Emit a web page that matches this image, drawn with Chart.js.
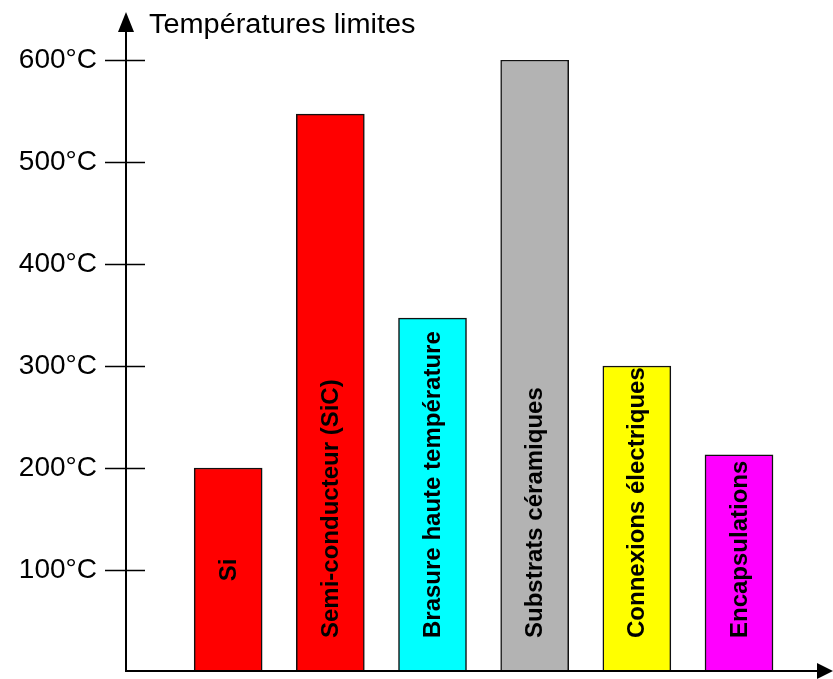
<!DOCTYPE html>
<html>
<head>
<meta charset="utf-8">
<script src="https://cdn.jsdelivr.net/npm/chart.js@4.4.1/dist/chart.umd.min.js"></script>
<style>
html,body{margin:0;padding:0;background:#fff;}
#wrap{width:833px;height:679px;}
</style>
</head>
<body>
<div id="wrap"><canvas id="c" width="833" height="679"></canvas></div>
<script>
const categories = ['Si', 'Semi-conducteur (SiC)', 'Brasure haute température', 'Substrats céramiques', 'Connexions électriques', 'Encapsulations'];
const values = [200, 547, 347, 600, 300, 213];
const barColors = ['#ff0000', '#ff0000', '#00ffff', '#b3b3b3', '#ffff00', '#ff00ff'];
const yTicks = [100, 200, 300, 400, 500, 600];
const axisTitle = 'Températures limites';
const unit = '°C';

const FONT = '"Liberation Sans", Arial, sans-serif';

const deco = {
  id: 'deco',
  afterDatasetsDraw(chart) {
    const ctx = chart.ctx;
    const meta = chart.getDatasetMeta(0);
    ctx.save();
    ctx.font = 'bold 24px ' + FONT;
    ctx.fillStyle = '#000';
    ctx.textBaseline = 'middle';
    meta.data.forEach((bar, i) => {
      const txt = categories[i];
      const w = ctx.measureText(txt).width;
      const h = bar.base - bar.y;
      let endY;
      if (w < h / 4) {
        endY = (bar.y + bar.base) / 2 + w / 2;
      } else {
        endY = bar.base - 34;
      }
      ctx.save();
      ctx.translate(bar.x, endY);
      ctx.rotate(-Math.PI / 2);
      ctx.textAlign = 'left';
      ctx.fillText(txt, 0, 1);
      ctx.restore();
    });
    ctx.restore();
  },
  afterDraw(chart) {
    const ctx = chart.ctx;
    const y = chart.scales.y;
    const ca = chart.chartArea;
    const ax = ca.left;
    const ay = y.getPixelForValue(0) - 1;
    ctx.save();
    ctx.strokeStyle = '#000';
    ctx.fillStyle = '#000';
    ctx.lineWidth = 2;
    ctx.beginPath();
    ctx.moveTo(ax, ay + 1);
    ctx.lineTo(ax, 28);
    ctx.stroke();
    ctx.beginPath();
    ctx.moveTo(ax, 12);
    ctx.lineTo(ax - 8, 32);
    ctx.lineTo(ax + 8, 32);
    ctx.closePath();
    ctx.fill();
    ctx.beginPath();
    ctx.moveTo(ax - 1, ay);
    ctx.lineTo(820, ay);
    ctx.stroke();
    ctx.beginPath();
    ctx.moveTo(833, ay);
    ctx.lineTo(817, ay - 8);
    ctx.lineTo(817, ay + 8);
    ctx.closePath();
    ctx.fill();
    ctx.lineWidth = 1.5;
    yTicks.forEach(v => {
      const py = Math.round(y.getPixelForValue(v)) + 0.5;
      ctx.beginPath();
      ctx.moveTo(ax - 21, py);
      ctx.lineTo(ax + 19, py);
      ctx.stroke();
    });
    ctx.font = '27px ' + FONT;
    ctx.textAlign = 'left';
    ctx.textBaseline = 'alphabetic';
    ctx.translate(149, 33);
    ctx.scale(1.07, 1);
    ctx.fillText(axisTitle, 0, 0);
    ctx.restore();
  }
};

new Chart(document.getElementById('c'), {
  type: 'bar',
  data: {
    datasets: [{
      data: values.map((v, i) => ({ x: i + 1, y: v })),
      backgroundColor: barColors,
      borderColor: '#111',
      borderWidth: 1.5,
      borderSkipped: false,
      barThickness: 68
    }]
  },
  options: {
    responsive: false,
    animation: false,
    devicePixelRatio: 1,
    layout: { padding: { top: 60, bottom: 7, left: 0, right: 0 } },
    plugins: { legend: { display: false }, tooltip: { enabled: false } },
    scales: {
      x: {
        type: 'linear',
        min: 0,
        max: 6.92,
        offset: false,
        display: false,
        grid: { display: false, drawTicks: false },
        ticks: { display: false }
      },
      y: {
        min: 0,
        max: 600,
        grid: { display: false, drawTicks: false },
        border: { display: false },
        afterFit(scale) {
          scale.width = 126;
          scale.paddingTop = 0;
          scale.paddingBottom = 0;
        },
        ticks: {
          stepSize: 100,
          padding: 29,
          color: '#000',
          font: { family: FONT, size: 28 },
          callback: v => (v === 0 ? '' : v + unit)
        }
      }
    }
  },
  plugins: [deco]
});
</script>
</body>
</html>
